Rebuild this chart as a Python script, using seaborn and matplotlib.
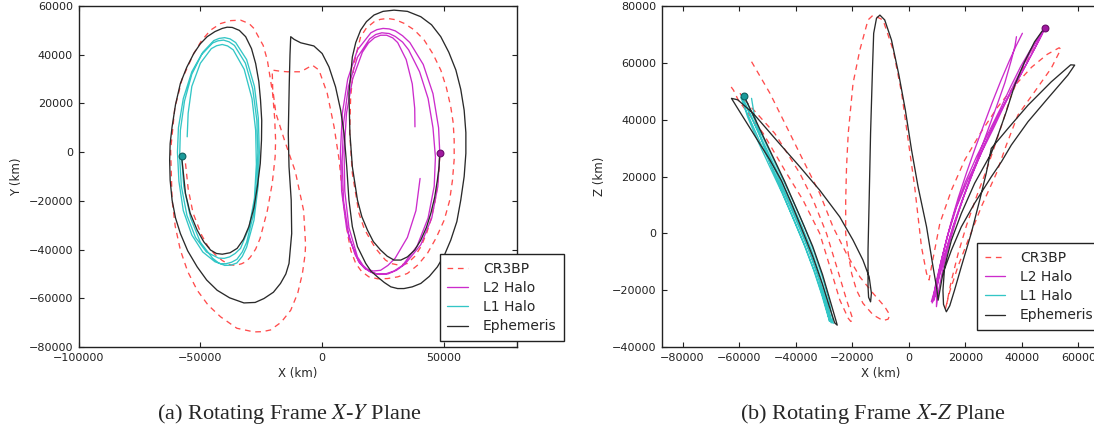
import numpy as np
import matplotlib
matplotlib.use("Agg")
import matplotlib.pyplot as plt
import seaborn as sns

# trajectories, rotating frame, km

# ---------------- X-Y plane ----------------
l1_xy = [(-57700, -1600), (-56800, -14000), (-54000, -27000), (-50000, -37000), (-45000, -43500),
         (-42500, -45500), (-40000, -46500), (-37500, -46400), (-35000, -45500), (-32800, -42800),
         (-31000, -39000), (-28000, -28000), (-26300, -14000), (-25800, 0), (-26200, 14000),
         (-27800, 27000), (-31000, 38000), (-35500, 45000), (-37800, 46500), (-40000, 47000),
         (-42300, 46700), (-44500, 45800), (-49000, 41000), (-53500, 33000), (-57000, 22000),
         (-59000, 10000), (-59400, 0), (-58800, -12000), (-57000, -24000), (-53500, -34000),
         (-49000, -41000), (-44000, -45000), (-41700, -45800), (-39500, -45800), (-37200, -45200),
         (-35000, -44000), (-32800, -41000), (-31000, -37000), (-28300, -26000), (-26800, -13000),
         (-26400, 0), (-26800, 13000), (-28500, 26000), (-31500, 36500), (-36000, 43800),
         (-38200, 45300), (-40500, 46000), (-42800, 45700), (-45000, 44800), (-49500, 40000),
         (-53500, 32000), (-56500, 21000), (-58200, 9000), (-58500, -2000), (-57800, -14000),
         (-55500, -26000), (-52000, -35000), (-47500, -41000), (-42500, -43500), (-40200, -43600),
         (-38000, -43000), (-35700, -41600), (-33500, -39500), (-30000, -31000), (-27800, -19000),
         (-27000, -5000), (-27300, 9000), (-28800, 22000), (-32000, 34000), (-36500, 42000),
         (-38800, 43600), (-41000, 44200), (-43300, 43700), (-45500, 42500), (-50000, 36500),
         (-53500, 27000), (-55000, 16000), (-55400, 6300)]

l2_xy = [(40200, -10800), (38500, -24000), (35000, -35000), (30000, -43500), (27000, -46500),
         (24000, -48500), (21000, -48800), (18000, -48000), (15500, -45500), (13500, -42000),
         (10000, -31000), (8000, -16000), (7500, 0), (8300, 16000), (10500, 30000),
         (14500, 42000), (20000, 49000), (22500, 50300), (25000, 50800), (27500, 50600),
         (30000, 49800), (33000, 47800), (36000, 45000), (41500, 36000), (45500, 24000),
         (47800, 10000), (48300, -500), (47500, -14000), (45000, -27000), (40500, -38000),
         (34000, -46000), (30500, -48500), (27000, -50000), (23500, -50200), (20500, -49500),
         (17500, -47800), (15000, -45000), (11000, -35000), (8800, -20000), (8200, -4000),
         (8800, 12000), (10800, 27000), (14500, 39000), (19500, 46500), (22000, 48300),
         (24500, 49000), (27500, 48700), (30000, 47500), (33000, 45200), (35500, 42000),
         (40000, 33000), (43500, 22000), (45500, 10000), (46500, -2000), (46000, -14000),
         (43500, -27000), (39000, -38500), (33000, -46500), (29500, -48800), (26000, -50000),
         (22500, -50000), (19500, -49000), (16800, -46500), (14500, -43000), (11000, -31000),
         (9300, -16000), (9000, 0), (10000, 16000), (12500, 30000), (16500, 41000),
         (19000, 44800), (21500, 47000), (24000, 48000), (26500, 48000), (29000, 46900),
         (31000, 45000), (34500, 38000), (37000, 28000), (38000, 18000), (38100, 10400)]

eph_xy = [(-57700, -1600), (-56100, -17000), (-54200, -25000), (-51300, -32000), (-48600, -36800),
          (-45800, -40200), (-43400, -41600), (-41000, -41900), (-37800, -41300), (-34900, -39500),
          (-32300, -35800), (-30100, -30600), (-28000, -22800), (-26600, -14200), (-25400, -4700),
          (-24900, 4900), (-24800, 13000), (-25300, 21400), (-26000, 29000), (-27300, 36400),
          (-29000, 42500), (-31400, 47400), (-34000, 50000), (-36900, 51200), (-39000, 51300),
          (-41000, 50800), (-44000, 49500), (-47200, 47400), (-50000, 44500), (-52700, 40500),
          (-55600, 34800), (-58200, 28200), (-60200, 19500), (-61600, 10400), (-62400, 3500),
          (-62600, -3300), (-62400, -11500), (-61600, -19700), (-60200, -27000), (-58200, -33400),
          (-55200, -40500), (-51300, -47100), (-47400, -52500), (-43100, -56700), (-38000, -59800),
          (-32100, -61900), (-27500, -61700), (-23900, -60100), (-20000, -57500), (-17100, -53900),
          (-14900, -50000), (-13600, -45700), (-12500, -33400), (-12700, -19700), (-13600, -6000),
          (-13900, 7700), (-13500, 28200), (-13200, 40000), (-12900, 47400), (-11500, 46300),
          (-8800, 44900), (-3400, 43600), (0, 40500), (2800, 35000), (5500, 26800),
          (7600, 17200), (9000, 7700), (10100, -6000), (11000, -19700), (12400, -30600),
          (14500, -38800), (17900, -45700), (20000, -48800), (22700, -51200), (25500, -53500),
          (28200, -55300), (31000, -56000), (33600, -56000), (37000, -55300), (40500, -53900),
          (44000, -51000), (47300, -47100), (50300, -42000), (52800, -36100), (55300, -28500),
          (56900, -19700), (58300, -10000), (59000, -500), (59000, 8000), (58300, 17200),
          (56900, 25800), (54900, 33700), (52000, 41000), (48700, 47400), (44900, 52300),
          (40500, 55600), (35000, 57800), (29500, 58300), (25000, 57800), (21300, 56300),
          (18200, 53600), (15800, 50100), (13800, 45000), (12400, 39100), (11000, 24100),
          (11400, 7700), (12400, -6000), (14500, -19700), (16300, -26500), (18600, -32000),
          (21000, -36700), (24000, -40200), (26700, -42700), (29500, -44300), (32300, -44300),
          (35000, -43000), (38000, -40200), (40500, -36100), (42800, -30900), (44600, -25200),
          (46200, -18500), (47300, -11500), (48000, -6000), (48300, -500)]

cr3bp_xy = [(-56100, -4600), (-55000, -15000), (-53000, -25000), (-49500, -34000), (-47000, -38500),
            (-44000, -42000), (-41000, -44500), (-38000, -46200), (-35500, -46500), (-33000, -45800),
            (-31000, -44800), (-29400, -43000), (-27300, -39800), (-25500, -35500), (-22500, -24000),
            (-20500, -12900), (-19300, -2000), (-19100, 4900), (-19500, 14000), (-20300, 24000),
            (-22500, 37800), (-24200, 43800), (-26500, 48000), (-28000, 50800), (-30000, 52800),
            (-33500, 54200), (-37500, 54000), (-41700, 52800), (-45800, 50100), (-49500, 45800),
            (-52700, 40500), (-57500, 30000), (-60500, 18000), (-62200, 800), (-61600, -19700),
            (-60300, -30500), (-58200, -40200), (-55200, -49000), (-51300, -56700), (-46800, -62800),
            (-41700, -67600), (-35000, -72300), (-28000, -73800), (-24500, -73700), (-21200, -73000),
            (-16800, -69800), (-12900, -64900), (-10000, -57800), (-8100, -49800), (-7000, -42000),
            (-6800, -38000), (-7600, -24000), (-11000, -8000), (-15500, 5000), (-19000, 16000),
            (-20300, 26000), (-20500, 33700), (-17000, 33200), (-14300, 33000), (-8800, 33000),
            (-4000, 35700), (-1300, 33700), (2100, 24100), (4900, 10400), (7000, -3300),
            (8300, -17000), (10400, -33400), (11800, -40500), (13800, -45700), (16200, -49000),
            (19200, -51200), (22800, -52000), (26800, -51900), (31000, -51200), (35000, -49800),
            (39300, -46300), (43200, -41600), (46800, -35200), (50100, -27900), (52300, -20000),
            (53500, -11500), (54200, -3000), (54200, 4900), (53800, 12000), (52800, 18600),
            (51000, 26500), (48700, 33700), (45500, 40300), (41900, 46000), (37800, 50200),
            (33600, 52900), (30000, 54400), (26800, 54900), (23800, 54500), (21300, 53500),
            (18200, 51000), (15800, 47400), (13100, 36400), (11700, 22700), (11300, 8000),
            (12400, -8700), (15100, -25100), (17300, -31500), (19900, -36100), (21800, -39300),
            (24000, -42000), (26000, -44300), (28200, -45700), (31600, -46400), (35000, -45700),
            (38000, -42800), (40500, -38900), (42800, -33500), (44600, -27900), (46200, -21000),
            (47300, -14200), (48000, -7000), (48300, -500)]

# ---------------- X-Z plane ----------------
l1_xz = [(-58300, 48400), (-54500, 40000), (-50000, 30500), (-45500, 21000), (-41000, 11500),
         (-37000, 2500), (-33500, -6500), (-30500, -15500), (-28200, -23500), (-26700, -31700),
         (-27500, -30500), (-29600, -22500), (-32400, -14000), (-35800, -5000), (-39800, 4500),
         (-44000, 14000), (-48500, 23500), (-53000, 33000), (-57000, 42000), (-59400, 47800),
         (-58500, 47000), (-55000, 39500), (-50700, 30500), (-46200, 21000), (-41800, 11500),
         (-37800, 2500), (-34200, -6500), (-31200, -15500), (-28800, -23500), (-27400, -31500),
         (-28200, -30000), (-30300, -22500), (-33100, -14000), (-36500, -5000), (-40500, 4500),
         (-44700, 14000), (-49200, 23500), (-53400, 32500), (-57000, 41000), (-58800, 46500),
         (-58000, 46000), (-54800, 39000), (-50800, 30000), (-46500, 20500), (-42200, 11000),
         (-38300, 2000), (-34800, -7000), (-31800, -16000), (-29500, -24000), (-28000, -31000),
         (-28600, -29000), (-30800, -21500), (-33600, -13000), (-37000, -4000), (-40800, 5000),
         (-44800, 14500), (-48800, 24000), (-52300, 33500), (-54700, 42000), (-55600, 47500)]

l2_xz = [(40200, 70400), (38000, 66000), (35500, 60500), (32500, 53500), (29500, 46000),
         (26500, 38000), (23500, 30000), (20500, 21500), (17500, 12500), (15000, 4000),
         (12800, -4500), (10800, -13000), (9200, -20000), (8000, -24000), (9000, -23500),
         (10500, -16000), (12800, -7000), (15500, 2000), (18800, 11500), (22500, 21000),
         (26500, 30500), (31000, 40000), (35500, 48500), (40000, 56500), (44000, 64000),
         (46800, 69500), (48100, 72400), (47200, 71000), (44000, 65500), (41000, 60000),
         (37500, 53000), (34000, 45500), (30000, 37000), (25500, 28000), (21000, 19000),
         (17000, 9500), (14000, 0), (11500, -9500), (9500, -18000), (8300, -24500),
         (9300, -22000), (11000, -14500), (13300, -6000), (16000, 3000), (19300, 12500),
         (23000, 22000), (27000, 31500), (31500, 41000), (36000, 49500), (40500, 57500),
         (44300, 64500), (47200, 70000), (47800, 71500), (46800, 70500), (43000, 64500),
         (39500, 58500), (36000, 51500), (32500, 44000), (28500, 36000), (24000, 27000),
         (20000, 18000), (16500, 8500), (13500, -1500), (11200, -11000), (10000, -18000),
         (9800, -25800), (10600, -20000), (12200, -12000), (14500, -3000), (17300, 6500),
         (20500, 16000), (24000, 25500), (27500, 35000), (31000, 44500), (34000, 53000),
         (36300, 61000), (37600, 66000), (38100, 69200)]

eph_xz = [(-58300, 48400), (-54000, 39500), (-49500, 30000), (-44000, 18500), (-38500, 6000),
          (-34000, -4500), (-30500, -14500), (-27700, -24000), (-25800, -30500), (-25300, -32300),
          (-26200, -31500), (-28000, -26000), (-30500, -18000), (-34000, -8000), (-38000, 2000),
          (-41500, 10500), (-45000, 18500), (-49100, 25800), (-55000, 35200), (-60900, 44600),
          (-62700, 47500), (-60500, 47000), (-55000, 42200), (-46800, 32800), (-38500, 23400),
          (-31500, 15200), (-24400, 5800), (-19700, -2400), (-16200, -9400), (-14000, -15300),
          (-13200, -21100), (-13500, -24100), (-14200, -22500), (-14400, -18800), (-14400, -5900),
          (-14000, 11700), (-13500, 35200), (-12800, 58600), (-12400, 70400), (-11400, 75700),
          (-10200, 76800), (-8500, 75100), (-6100, 68000), (-3500, 55800), (-1200, 43400),
          (1000, 29300), (3300, 16400), (6300, 2300), (8600, -11800), (10000, -20000),
          (10400, -23500), (12100, -14100), (15100, -5900), (18600, 2300), (23300, 10600),
          (29200, 19900), (32800, 25200), (36300, 31100), (42200, 39300), (49200, 47500),
          (56300, 55700), (58700, 59200), (57300, 59300), (50400, 53300), (42200, 45100),
          (35100, 36900), (29200, 29900), (27400, 21100), (25100, 11700), (22100, 0),
          (18600, -11700), (16200, -20000), (14500, -25500), (13300, -27600), (12300, -25000),
          (12100, -20000), (12700, -11700), (15100, -2400), (18600, 7000), (23300, 17600),
          (29200, 28200), (31600, 34600), (34500, 42800), (37500, 52200), (41000, 60400),
          (44500, 67400), (48100, 72400)]

# CR3BP in X-Z is drawn as two arcs
cr3bp_xz_a = [(-62800, 51500), (-62000, 50400), (-60300, 46900), (-51500, 35200), (-43200, 21100),
              (-37400, 11700), (-31500, 0), (-27900, -11700), (-24400, -23400), (-21400, -29900),
              (-20500, -31000), (-19700, -30500), (-22000, -23400), (-25500, -11700), (-29100, 0),
              (-33800, 11700), (-38500, 21100), (-47400, 35200), (-58000, 46900), (-59700, 49300)]

cr3bp_xz_b = [(-55600, 60400), (-49100, 49300), (-43200, 37500), (-37400, 25800), (-31500, 14100),
              (-26800, 2300), (-22100, -7000), (-17300, -15300), (-12600, -21100), (-8500, -25800),
              (-6700, -28700), (-7300, -30200), (-9100, -30700), (-12600, -28700), (-16200, -24600),
              (-18500, -19900), (-20200, -14100), (-21400, -7000), (-22300, 0), (-22300, 11700),
              (-22000, 23400), (-21400, 35200), (-19700, 52800), (-17300, 64500), (-14400, 75100),
              (-12600, 76800), (-9100, 75100), (-5500, 64500), (-2500, 49300), (-200, 32800),
              (2100, 16400), (4500, -4700), (6300, -14100), (7200, -16400), (8000, -12000),
              (11000, 3500), (15100, 15200), (19800, 25800), (25500, 35500), (31500, 44500),
              (37500, 52000), (43500, 58500), (49000, 63000), (53200, 65300), (53800, 64800),
              (50400, 58100), (44500, 49800), (38600, 41600), (34500, 31000), (31000, 21100),
              (25700, 9400), (21000, -2400), (17400, -11700), (14500, -20500), (13000, -26500),
              (13600, -24000), (15000, -17000), (17500, -7000), (20500, 3000), (24000, 13000),
              (27500, 22300), (30500, 31000), (33500, 40000), (36300, 48700), (39800, 56900),
              (43500, 63500), (46500, 68800), (48100, 72400)]

# start/insertion points
l1_mark_xy, l2_mark_xy = (-57700, -1600), (48300, -500)
l1_mark_xz, l2_mark_xz = (-58300, 48400), (48100, 72400)

RED, MAG, CYAN, BLACK = "#ff4c4c", "#cc2ccc", "#33c6c6", "#2a2a2a"
DASH = (0, (4.3, 3.6))

sns.set_style("white", {
    "xtick.direction": "in", "ytick.direction": "in",
    "xtick.top": True, "ytick.right": True,
    "xtick.bottom": True, "ytick.left": True,
    "axes.edgecolor": "#222222",
})
plt.rcParams["font.family"] = ["DejaVu Sans"]
plt.rcParams["mathtext.fontset"] = "stix"


def draw(ax, pts, color, label=None, ls="-"):
    a = np.array(pts)
    sns.lineplot(x=a[:, 0], y=a[:, 1], sort=False, estimator=None, ax=ax,
                 color=color, lw=0.95, linestyle=ls, label=label)


def mark(ax, pt, face, edge):
    sns.scatterplot(x=[pt[0]], y=[pt[1]], ax=ax, s=24, color=face,
                    edgecolor=edge, linewidth=0.8, zorder=6)


fig = plt.figure(figsize=(10.94, 4.29), dpi=100)
ax1 = fig.add_axes([0.0718, 0.1911, 0.4008, 0.7949])
ax2 = fig.add_axes([0.6048, 0.1911, 0.4008, 0.7949])

# X-Y
draw(ax1, cr3bp_xy, RED, "CR3BP", DASH)
draw(ax1, l2_xy, MAG, "L2 Halo")
draw(ax1, l1_xy, CYAN, "L1 Halo")
draw(ax1, eph_xy, BLACK, "Ephemeris")
mark(ax1, l1_mark_xy, "#1a9a9a", "#0f6060")
mark(ax1, l2_mark_xy, "#a0189f", "#6a0a6a")

# X-Z
draw(ax2, cr3bp_xz_a, RED, "CR3BP", DASH)
draw(ax2, cr3bp_xz_b, RED, None, DASH)
draw(ax2, l2_xz, MAG, "L2 Halo")
draw(ax2, l1_xz, CYAN, "L1 Halo")
draw(ax2, eph_xz, BLACK, "Ephemeris")
mark(ax2, l1_mark_xz, "#1a9a9a", "#0f6060")
mark(ax2, l2_mark_xz, "#a0189f", "#6a0a6a")

ax1.set_xlim(-100000, 80000)
ax1.set_ylim(-80000, 60000)
ax1.set_xticks([-100000, -50000, 0, 50000])
ax1.set_yticks(np.arange(-80000, 60001, 20000))
ax1.set_xlabel("X (km)", fontsize=8.5, labelpad=3)
ax1.set_ylabel("Y (km)", fontsize=8.5, labelpad=4)

ax2.set_xlim(-87400, 67700)
ax2.set_ylim(-40000, 80000)
ax2.set_xticks(np.arange(-80000, 60001, 20000))
ax2.set_yticks(np.arange(-40000, 80001, 20000))
ax2.set_xlabel("X (km)", fontsize=8.5, labelpad=3)
ax2.set_ylabel("Z (km)", fontsize=8.5, labelpad=4)

for ax in (ax1, ax2):
    ax.tick_params(labelsize=8, length=3.5, width=0.8, colors="#222222")
    ax.tick_params(axis="x", pad=4)
    ax.tick_params(axis="y", pad=4)
    for sp in ax.spines.values():
        sp.set_linewidth(1.0)

leg_kw = dict(loc="lower left", borderaxespad=0, fancybox=False, framealpha=1,
              edgecolor="#222222", fontsize=10, handlelength=1.45, handletextpad=1.1,
              borderpad=0.55, labelspacing=0.38)
lg1 = ax1.legend(bbox_to_anchor=(0.824, 0.0176), **leg_kw)
lg2 = ax2.legend(bbox_to_anchor=(0.719, 0.0499), **leg_kw)
for lg in (lg1, lg2):
    lg.get_frame().set_linewidth(1.0)

cap = dict(ha="center", va="baseline", fontsize=16, family=["Liberation Serif"])
fig.text(0.2642, 0.0226, "(a) Rotating Frame $X$-$Y$ Plane", **cap)
fig.text(0.798, 0.0226, "(b) Rotating Frame $X$-$Z$ Plane", **cap)

fig.savefig("out.png", dpi=100)
